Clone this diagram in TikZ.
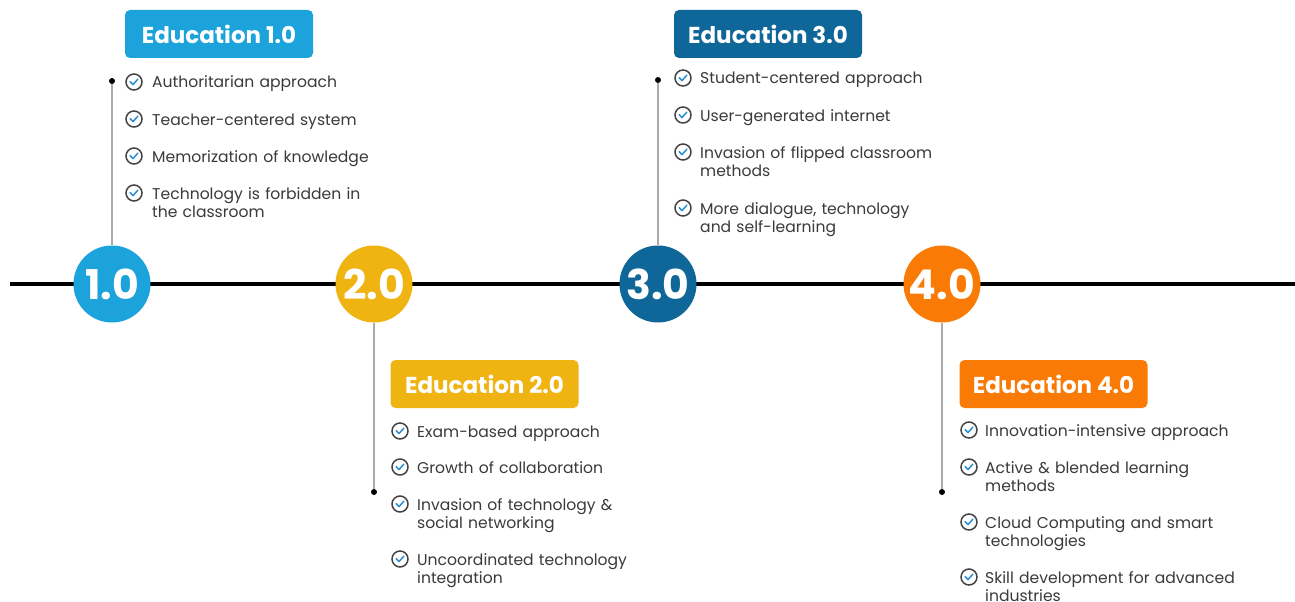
\documentclass[tikz,border=0pt]{standalone}
\usepackage{fontspec}
\setmainfont{Poppins}
\definecolor{cA}{HTML}{1CA3DB}
\definecolor{cB}{HTML}{EFB312}
\definecolor{cC}{HTML}{0E6798}
\definecolor{cD}{HTML}{FA7A06}
\definecolor{txt}{HTML}{3A3A3A}
\definecolor{ckgray}{HTML}{444444}
\definecolor{ckblue}{HTML}{2A8FD0}
\definecolor{vline}{HTML}{AAAAAA}
\tikzset{
  era/.style={circle, fill=#1, minimum size=77pt, inner sep=0pt, text=white,
    font=\fontsize{41}{41}\selectfont\bfseries},
  titlebox/.style={rounded corners=5pt, fill=#1, minimum width=188pt, minimum height=48pt,
    inner sep=0pt, text=white, font=\fontsize{23}{23}\selectfont\bfseries},
  item/.style={anchor=base west, inner sep=0pt, text width=300pt, align=left, text=txt,
    font=\fontsize{15.6}{18.5}\selectfont},
  chk/.style={circle, draw=ckgray, line width=1.5pt, minimum size=16pt, inner sep=0pt,
    path picture={\draw[ckblue, line width=1.5pt, line cap=round, line join=round]
      ([shift={(-3.8pt,0.3pt)}]path picture bounding box.center) --
      ([shift={(-1pt,-2.6pt)}]path picture bounding box.center) --
      ([shift={(3.8pt,2.8pt)}]path picture bounding box.center);}},
  dotnode/.style={circle, fill=black, minimum size=6pt, inner sep=0pt},
  stem/.style={draw=vline, line width=1.5pt},
  axis/.style={draw=black, line width=4pt}
}
\begin{document}
\begin{tikzpicture}[x=1pt, y=-1pt]
\useasboundingbox[fill=white] (0,0) rectangle (1295,602);
% timeline
\coordinate (L) at (10,284);
\coordinate (R) at (1295,284);
\draw[axis] (L) -- (R);
% stems
\node[dotnode] (d1) at (112,81) {};
\node[dotnode] (d3) at (658,80) {};
\node[dotnode] (d2) at (374,492) {};
\node[dotnode] (d4) at (942,492) {};
% circles
\node[era=cA] (e1) at (112,284) {1.0};
\node[era=cB] (e2) at (374,284) {2.0};
\node[era=cC] (e3) at (658,284) {3.0};
\node[era=cD] (e4) at (942,284) {4.0};
\draw[stem] (d1) -- (e1.north);
\draw[stem] (d3) -- (e3.north);
\draw[stem] (e2.south) -- (d2);
\draw[stem] (e4.south) -- (d4);
% titles
\node[titlebox=cA] (t1) at (219,34) {Education 1.0};
\node[titlebox=cC] (t3) at (768,34) {Education 3.0};
\node[titlebox=cB] (t2) at (484.5,384) {Education 2.0};
\node[titlebox=cD] (t4) at (1053.5,384) {Education 4.0};
% items 1.0
\node[chk] (c11) at (134,82) {};
\node[item] (i11) at (152,88) {Authoritarian approach};
\node[chk] (c12) at (134,119) {};
\node[item] (i12) at (152,125) {Teacher-centered system};
\node[chk] (c13) at (134,156) {};
\node[item] (i13) at (152,162) {Memorization of knowledge};
\node[chk] (c14) at (134,193) {};
\node[item] (i14) at (152,199) {Technology is forbidden in\\the classroom};
% items 3.0
\node[chk] (c31) at (683,78) {};
\node[item] (i31) at (700,84) {Student-centered approach};
\node[chk] (c32) at (683,115) {};
\node[item] (i32) at (700,121) {User-generated internet};
\node[chk] (c33) at (683,152) {};
\node[item] (i33) at (700,158) {Invasion of flipped classroom\\methods};
\node[chk] (c34) at (683,208) {};
\node[item] (i34) at (700,214) {More dialogue, technology\\and self-learning};
% items 2.0
\node[chk] (c21) at (400,431) {};
\node[item] (i21) at (417,437) {Exam-based approach};
\node[chk] (c22) at (400,467) {};
\node[item] (i22) at (417,473) {Growth of collaboration};
\node[chk] (c23) at (400,504) {};
\node[item] (i23) at (417,510) {Invasion of technology \&\\social networking};
\node[chk] (c24) at (400,559) {};
\node[item] (i24) at (417,565) {Uncoordinated technology\\integration};
% items 4.0
\node[chk] (c41) at (969,430) {};
\node[item] (i41) at (985,436) {Innovation-intensive approach};
\node[chk] (c42) at (969,467) {};
\node[item] (i42) at (985,473) {Active \& blended learning\\methods};
\node[chk] (c43) at (969,522) {};
\node[item] (i43) at (985,528) {Cloud Computing and smart\\technologies};
\node[chk] (c44) at (969,577) {};
\node[item] (i44) at (985,583) {Skill development for advanced\\industries};
\end{tikzpicture}
\end{document}
